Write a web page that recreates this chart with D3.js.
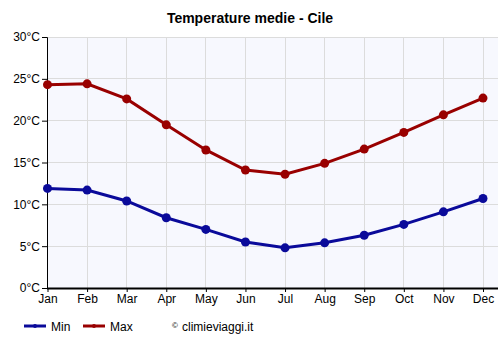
<!DOCTYPE html>
<html><head><meta charset="utf-8">
<script src="https://cdn.jsdelivr.net/npm/d3@7"></script>
<style>body{margin:0;background:#fff;}svg{display:block;font-family:Arial,"Liberation Sans",sans-serif;}</style>
</head><body>
<svg id="c" width="500" height="350"></svg>
<script>
const months = ["Jan","Feb","Mar","Apr","May","Jun","Jul","Aug","Sep","Oct","Nov","Dec"];
const minTemps = [11.9, 11.7, 10.4, 8.4, 7.0, 5.5, 4.8, 5.4, 6.3, 7.6, 9.1, 10.7];
const maxTemps = [24.3, 24.4, 22.6, 19.5, 16.5, 14.1, 13.6, 14.9, 16.6, 18.6, 20.7, 22.7];
const yTicks = [0, 5, 10, 15, 20, 25, 30];
const seriesNames = ["Min", "Max"];
const seriesColors = ["#0a0a9a", "#990000"];

const svg = d3.select("#c");
const L = 47, R = 498, T = 37, B = 288;
const x = d3.scalePoint().domain(months).range([47.5, 483]);
const y = d3.scaleLinear().domain([0, 30]).range([B, T]);

svg.append("rect").attr("x", L).attr("y", T).attr("width", R - L).attr("height", B - T).attr("fill", "#f7f8fe");

// grid
svg.append("g").selectAll("line").data(yTicks).join("line")
  .attr("x1", L).attr("x2", R).attr("y1", d => y(d)).attr("y2", d => y(d))
  .attr("stroke", "#dcdcdc").attr("stroke-width", 1).attr("shape-rendering", "crispEdges");
svg.append("g").selectAll("line").data(months).join("line")
  .attr("x1", d => x(d)).attr("x2", d => x(d)).attr("y1", T).attr("y2", B)
  .attr("stroke", "#dcdcdc").attr("stroke-width", 1).attr("shape-rendering", "crispEdges");

// y axis
const ya = svg.append("g").attr("transform", `translate(${L},0)`)
  .call(d3.axisLeft(y).tickValues(yTicks).tickSize(5).tickPadding(2).tickFormat(d => d + "°C"));
ya.select(".domain").attr("stroke", "#000");
ya.selectAll("text").attr("font-size", 12).attr("fill", "#000").attr("font-family", "Arial,'Liberation Sans',sans-serif");

// x axis
const xa = svg.append("g").attr("transform", `translate(0,${B})`)
  .call(d3.axisBottom(x).tickSize(4).tickPadding(2).tickSizeOuter(0));
xa.select(".domain").attr("stroke", "#000").attr("stroke-width", 2).attr("d", `M${L},0.5H${R}`);
xa.selectAll(".tick line").attr("stroke", "#000");
xa.selectAll("text").attr("font-size", 12).attr("fill", "#000").attr("font-family", "Arial,'Liberation Sans',sans-serif");

svg.append("text").attr("x", 250).attr("y", 23).attr("text-anchor", "middle")
  .attr("font-size", 14).attr("font-weight", "bold").text("Temperature medie - Cile");

const line = d3.line().x((d, i) => x(months[i])).y(d => y(d));
[minTemps, maxTemps].forEach((data, k) => {
  const g = svg.append("g");
  g.append("path").attr("d", line(data)).attr("fill", "none")
    .attr("stroke", seriesColors[k]).attr("stroke-width", 3);
  g.selectAll("circle").data(data).join("circle")
    .attr("cx", (d, i) => x(months[i])).attr("cy", d => y(d)).attr("r", 4.5)
    .attr("fill", seriesColors[k]);
});

// legend
const lg = svg.append("g").attr("transform", "translate(0,326)");
const lx = [24, 83];
seriesNames.forEach((n, k) => {
  lg.append("line").attr("x1", lx[k]).attr("x2", lx[k] + 22).attr("y1", 0).attr("y2", 0)
    .attr("stroke", seriesColors[k]).attr("stroke-width", 3);
  lg.append("circle").attr("cx", lx[k] + 11).attr("cy", 0).attr("r", 2).attr("fill", seriesColors[k]);
  lg.append("text").attr("x", lx[k] + 27).attr("y", 4.5).attr("font-size", 12).attr("fill", "#000").text(n);
});
lg.append("text").attr("x", 172).attr("y", 2).attr("font-size", 8).text("©");
lg.append("text").attr("x", 182).attr("y", 4.5).attr("font-size", 12).text("climieviaggi.it");
</script>
</body></html>
